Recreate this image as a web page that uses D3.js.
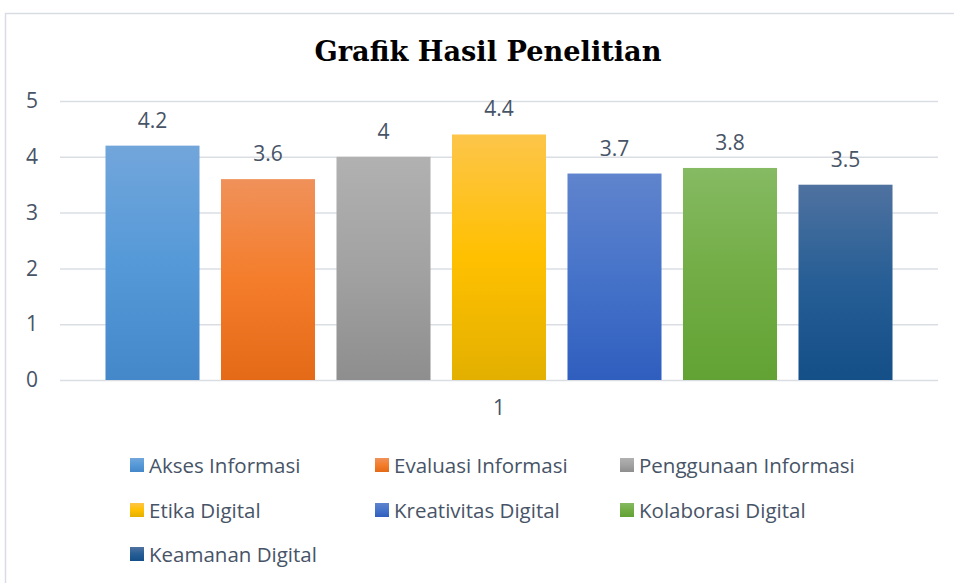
<!DOCTYPE html>
<html>
<head>
<meta charset="utf-8">
<script src="https://cdn.jsdelivr.net/npm/d3@7"></script>
<style>
  html, body { margin: 0; padding: 0; background: #fff; }
  svg { display: block; }
</style>
</head>
<body>
<div id="chart"></div>
<script>
// data
const groups = ['1'];
const series = ['Akses Informasi', 'Evaluasi Informasi', 'Penggunaan Informasi',
  'Etika Digital', 'Kreativitas Digital', 'Kolaborasi Digital', 'Keamanan Digital'];
const values = [4.2, 3.6, 4, 4.4, 3.7, 3.8, 3.5];
const yTicks = [0, 1, 2, 3, 4, 5];

// gradient stops per series: top, middle, bottom
const palette = [
  ['#72a6db', '#5599d8', '#4488ca'],
  ['#f0915a', '#f47d2b', '#e46a17'],
  ['#b1b1b1', '#a2a2a2', '#8e8e8e'],
  ['#fdc54a', '#ffc000', '#e3b000'],
  ['#6084cd', '#4673c9', '#2f5ebf'],
  ['#86ba63', '#72ad45', '#62a234'],
  ['#4f72a0', '#265e95', '#154f88']
];

const W = 954, H = 583;
const textColor = '#475467';
const font = "'Open Sans', sans-serif";

const svg = d3.select('#chart').append('svg')
  .attr('width', W).attr('height', H);

const defs = svg.append('defs');
palette.forEach((c, i) => {
  const g = defs.append('linearGradient')
    .attr('id', 'grad' + i)
    .attr('x1', 0).attr('y1', 0).attr('x2', 0).attr('y2', 1);
  g.append('stop').attr('offset', '0%').attr('stop-color', c[0]);
  g.append('stop').attr('offset', '50%').attr('stop-color', c[1]);
  g.append('stop').attr('offset', '100%').attr('stop-color', c[2]);
});

// outer frame (runs off the right and bottom of the picture)
svg.append('rect')
  .attr('x', 5.5).attr('y', 13.5)
  .attr('width', 1000).attr('height', 700)
  .attr('fill', 'none')
  .attr('stroke', '#d9dde3').attr('stroke-width', 1.5);

// title
svg.append('text')
  .attr('x', 488).attr('y', 61)
  .attr('text-anchor', 'middle')
  .attr('textLength', 347).attr('lengthAdjust', 'spacingAndGlyphs')
  .style('font-family', "'DejaVu Serif', serif")
  .style('font-weight', 'bold')
  .style('font-size', '27px')
  .style('fill', '#000')
  .text('Grafik Hasil Penelitian');

// scales
const y = d3.scaleLinear().domain([0, 5]).range([380, 101]);

const x0 = d3.scaleBand()
  .domain(groups)
  .range([60, 938])
  .paddingInner(0)
  .paddingOuter(0.0578);

const x1 = d3.scaleBand()
  .domain(series)
  .range([0, x0.bandwidth()])
  .paddingInner(0.186)
  .paddingOuter(0);

// grid lines
svg.append('g')
  .attr('transform', 'translate(60,0)')
  .call(d3.axisLeft(y).tickValues(yTicks).tickSize(-878).tickFormat(''))
  .call(g => g.select('.domain').remove())
  .call(g => g.selectAll('line').attr('stroke', '#dadee3').attr('stroke-width', 1.5));

// y tick labels
svg.append('g')
  .attr('transform', 'translate(38,0)')
  .call(d3.axisLeft(y).tickValues(yTicks).tickSize(0).tickPadding(0).tickFormat(d3.format('d')))
  .call(g => g.select('.domain').remove())
  .call(g => g.selectAll('text')
    .style('font-family', font).style('font-size', '21px').style('fill', textColor));

// x tick label
svg.append('g')
  .attr('transform', 'translate(0,380)')
  .call(d3.axisBottom(x0).tickSize(0).tickPadding(20))
  .call(g => g.select('.domain').remove())
  .call(g => g.selectAll('text')
    .style('font-family', font).style('font-size', '21px').style('fill', textColor));

// bars
const grp = svg.append('g')
  .attr('transform', `translate(${x0('1')},0)`);

grp.selectAll('rect')
  .data(series)
  .join('rect')
  .attr('x', d => x1(d))
  .attr('y', (d, i) => y(values[i]))
  .attr('width', x1.bandwidth())
  .attr('height', (d, i) => y(0) - y(values[i]))
  .attr('fill', (d, i) => `url(#grad${i})`);

// data labels
grp.selectAll('text.lbl')
  .data(series)
  .join('text')
  .attr('class', 'lbl')
  .attr('x', d => x1(d) + x1.bandwidth() / 2)
  .attr('y', (d, i) => y(values[i]) - 18)
  .attr('text-anchor', 'middle')
  .style('font-family', font).style('font-size', '21px').style('fill', textColor)
  .text((d, i) => values[i]);

// legend: 3 columns
const legX = [130, 375, 620];
const legY = [458, 503, 547];

const leg = svg.append('g').selectAll('g')
  .data(series)
  .join('g')
  .attr('transform', (d, i) => `translate(${legX[i % 3]},${legY[Math.floor(i / 3)]})`);

leg.append('rect')
  .attr('width', 14).attr('height', 14)
  .attr('fill', (d, i) => `url(#grad${i})`);

leg.append('text')
  .attr('x', 19).attr('y', 14.5)
  .style('font-family', font).style('font-size', '20.5px').style('fill', textColor)
  .text(d => d);
</script>
</body>
</html>
